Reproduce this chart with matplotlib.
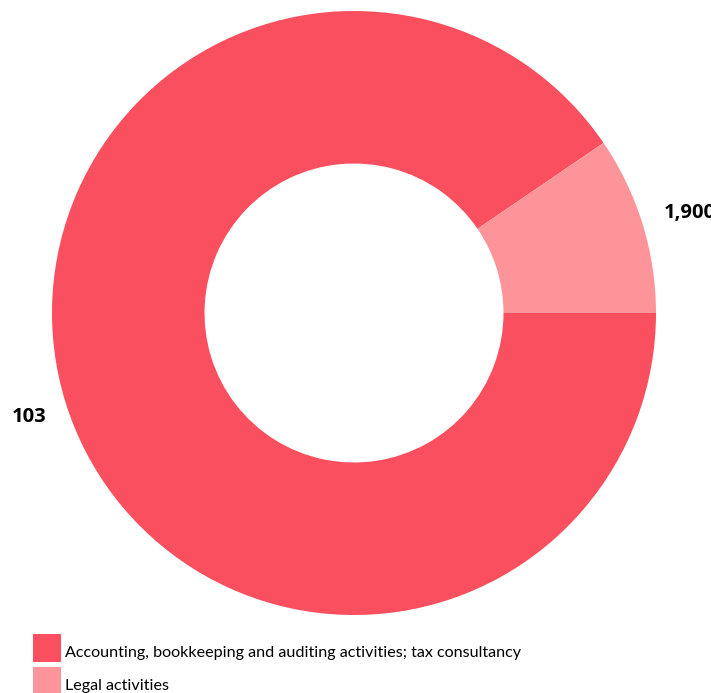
import matplotlib.pyplot as plt
from matplotlib.patches import Rectangle

categories = ["Accounting, bookkeeping and auditing activities; tax consultancy",
              "Legal activities"]
values = [18100, 1905]
value_labels = ["103", "1,900"]
colors = ["#F94F5E", "#FD9499"]

W, H = 711, 693
fig = plt.figure(figsize=(W / 100, H / 100), dpi=100)

# donut centre (354, 313) px, outer radius 302 px
cx, cy, r = 354, 313, 302
ax = fig.add_axes([(cx - r) / W, (H - cy - r) / H, 2 * r / W, 2 * r / H])

start = 360 * values[1] / sum(values)
ax.pie(values, colors=colors, startangle=start, counterclock=True, radius=1,
       wedgeprops=dict(width=0.505, linewidth=0), frame=False)
ax.set_xlim(-1, 1)
ax.set_ylim(-1, 1)
ax.set_aspect("equal")
ax.axis("off")

fig.text(12 / W, 1 - 417 / H, value_labels[0], fontsize=14.5, fontweight="bold",
         family="Open Sans", va="center", ha="left")
fig.text(664 / W, 1 - 213 / H, value_labels[1], fontsize=14.5, fontweight="bold",
         family="Open Sans", va="center", ha="left")

# legend
sw = 28
for i, (name, c) in enumerate(zip(categories, colors)):
    top = 634 + i * 33
    fig.add_artist(Rectangle((33 / W, 1 - (top + sw) / H), sw / W, sw / H,
                             transform=fig.transFigure, facecolor=c, edgecolor="none"))
    fig.text(65 / W, 1 - (top + 19) / H, name, fontsize=11.6, family="Lato",
             va="center", ha="left")

fig.savefig("out.png", dpi=100)
